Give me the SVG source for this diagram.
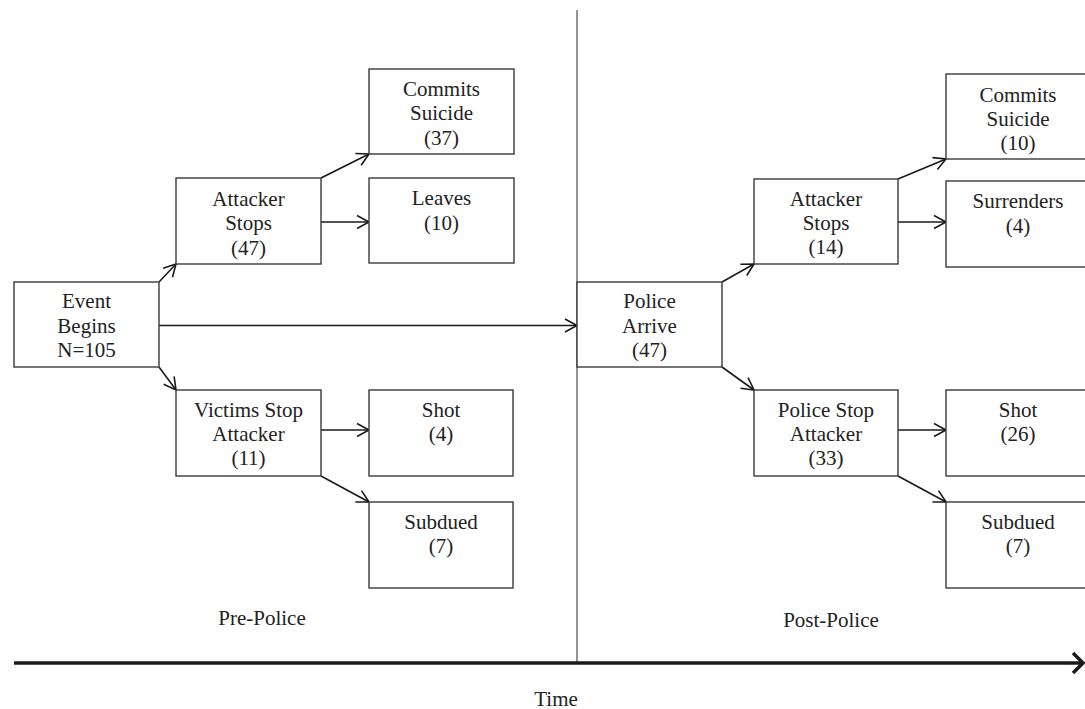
<svg xmlns="http://www.w3.org/2000/svg" width="1085" height="709" viewBox="0 0 1085 709">
<style>
.box{fill:#fff;stroke:#3a3a3a;stroke-width:1.4}
.t{font-family:"Liberation Serif","Times New Roman",serif;font-size:21px;fill:#222;text-anchor:middle}
.c{stroke:#1a1a1a;stroke-width:1.6;fill:none;marker-end:url(#ah)}
</style>
<defs>
<marker id="ah" markerUnits="userSpaceOnUse" markerWidth="16" markerHeight="16" viewBox="0 0 16 16" refX="13" refY="8" orient="auto">
<path d="M1,1.5 L13,8 L1,14.5" fill="none" stroke="#1a1a1a" stroke-width="1.6"/>
</marker>
<marker id="ah2" markerUnits="userSpaceOnUse" markerWidth="20" markerHeight="28" viewBox="0 0 20 28" refX="12" refY="14" orient="auto">
<path d="M2,4 L12,14 L2,24" fill="none" stroke="#1a1a1a" stroke-width="3.5"/>
</marker>
</defs>
<rect width="1085" height="709" fill="#fff"/>
<g id="timeline">
<line x1="577" y1="10" x2="577" y2="663" stroke="#7a7a7a" stroke-width="1.6"/>
<line x1="14" y1="663" x2="1083" y2="663" stroke="#1a1a1a" stroke-width="3.5" marker-end="url(#ah2)"/>
<text class="t" x="262" y="625">Pre-Police</text>
<text class="t" x="831" y="627">Post-Police</text>
<text class="t" x="556" y="706">Time</text>
</g>
<g id="connectors">
<line class="c" x1="159" y1="282" x2="176" y2="264"/>
<line class="c" x1="159" y1="367" x2="176" y2="390"/>
<line class="c" x1="159" y1="325.5" x2="577" y2="325.5"/>
<line class="c" x1="321" y1="178" x2="369" y2="154"/>
<line class="c" x1="321" y1="222" x2="369" y2="222"/>
<line class="c" x1="321" y1="430" x2="369" y2="430"/>
<line class="c" x1="321" y1="476" x2="369" y2="502"/>
<line class="c" x1="722" y1="282" x2="754" y2="264"/>
<line class="c" x1="722" y1="367" x2="754" y2="390"/>
<line class="c" x1="898" y1="179" x2="946" y2="159"/>
<line class="c" x1="898" y1="222" x2="946" y2="222"/>
<line class="c" x1="898" y1="430" x2="946" y2="430"/>
<line class="c" x1="898" y1="476" x2="946" y2="502"/>
</g>
<g id="event"><rect class="box" x="14" y="282" width="145" height="85"/>
<text class="t" x="86.5" y="308">Event</text><text class="t" x="86.5" y="332.5">Begins</text><text class="t" x="86.5" y="357">N=105</text></g>
<g id="attacker-stops-pre"><rect class="box" x="176" y="178" width="145" height="86"/>
<text class="t" x="248.5" y="205.5">Attacker</text><text class="t" x="248.5" y="230">Stops</text><text class="t" x="248.5" y="254.5">(47)</text></g>
<g id="suicide-pre"><rect class="box" x="369" y="69" width="145" height="85"/>
<text class="t" x="441.5" y="96">Commits</text><text class="t" x="441.5" y="120">Suicide</text><text class="t" x="441.5" y="144.5">(37)</text></g>
<g id="leaves-pre"><rect class="box" x="369" y="178" width="145" height="85"/>
<text class="t" x="441.5" y="205">Leaves</text><text class="t" x="441.5" y="229.5">(10)</text></g>
<g id="victims-stop"><rect class="box" x="176" y="390" width="145" height="86"/>
<text class="t" x="248.5" y="417">Victims Stop</text><text class="t" x="248.5" y="441">Attacker</text><text class="t" x="248.5" y="465">(11)</text></g>
<g id="shot-pre"><rect class="box" x="369" y="390" width="144" height="86"/>
<text class="t" x="441" y="417">Shot</text><text class="t" x="441" y="441">(4)</text></g>
<g id="subdued-pre"><rect class="box" x="369" y="502" width="144" height="86"/>
<text class="t" x="441" y="528.5">Subdued</text><text class="t" x="441" y="553">(7)</text></g>
<g id="police-arrive"><rect class="box" x="577" y="282" width="145" height="85"/>
<text class="t" x="649.5" y="308">Police</text><text class="t" x="649.5" y="333">Arrive</text><text class="t" x="649.5" y="357">(47)</text></g>
<g id="attacker-stops-post"><rect class="box" x="754" y="179" width="144" height="85"/>
<text class="t" x="826" y="205.5">Attacker</text><text class="t" x="826" y="230">Stops</text><text class="t" x="826" y="254">(14)</text></g>
<g id="suicide-post"><rect class="box" x="946" y="74" width="145" height="85"/>
<text class="t" x="1018" y="101.5">Commits</text><text class="t" x="1018" y="126">Suicide</text><text class="t" x="1018" y="150">(10)</text></g>
<g id="surrenders-post"><rect class="box" x="946" y="181" width="145" height="86"/>
<text class="t" x="1018" y="208">Surrenders</text><text class="t" x="1018" y="233">(4)</text></g>
<g id="police-stop"><rect class="box" x="754" y="390" width="144" height="86"/>
<text class="t" x="826" y="417">Police Stop</text><text class="t" x="826" y="441">Attacker</text><text class="t" x="826" y="465">(33)</text></g>
<g id="shot-post"><rect class="box" x="946" y="390" width="145" height="86"/>
<text class="t" x="1018" y="417">Shot</text><text class="t" x="1018" y="441">(26)</text></g>
<g id="subdued-post"><rect class="box" x="946" y="502" width="145" height="86"/>
<text class="t" x="1018" y="528.5">Subdued</text><text class="t" x="1018" y="553">(7)</text></g>
</svg>
